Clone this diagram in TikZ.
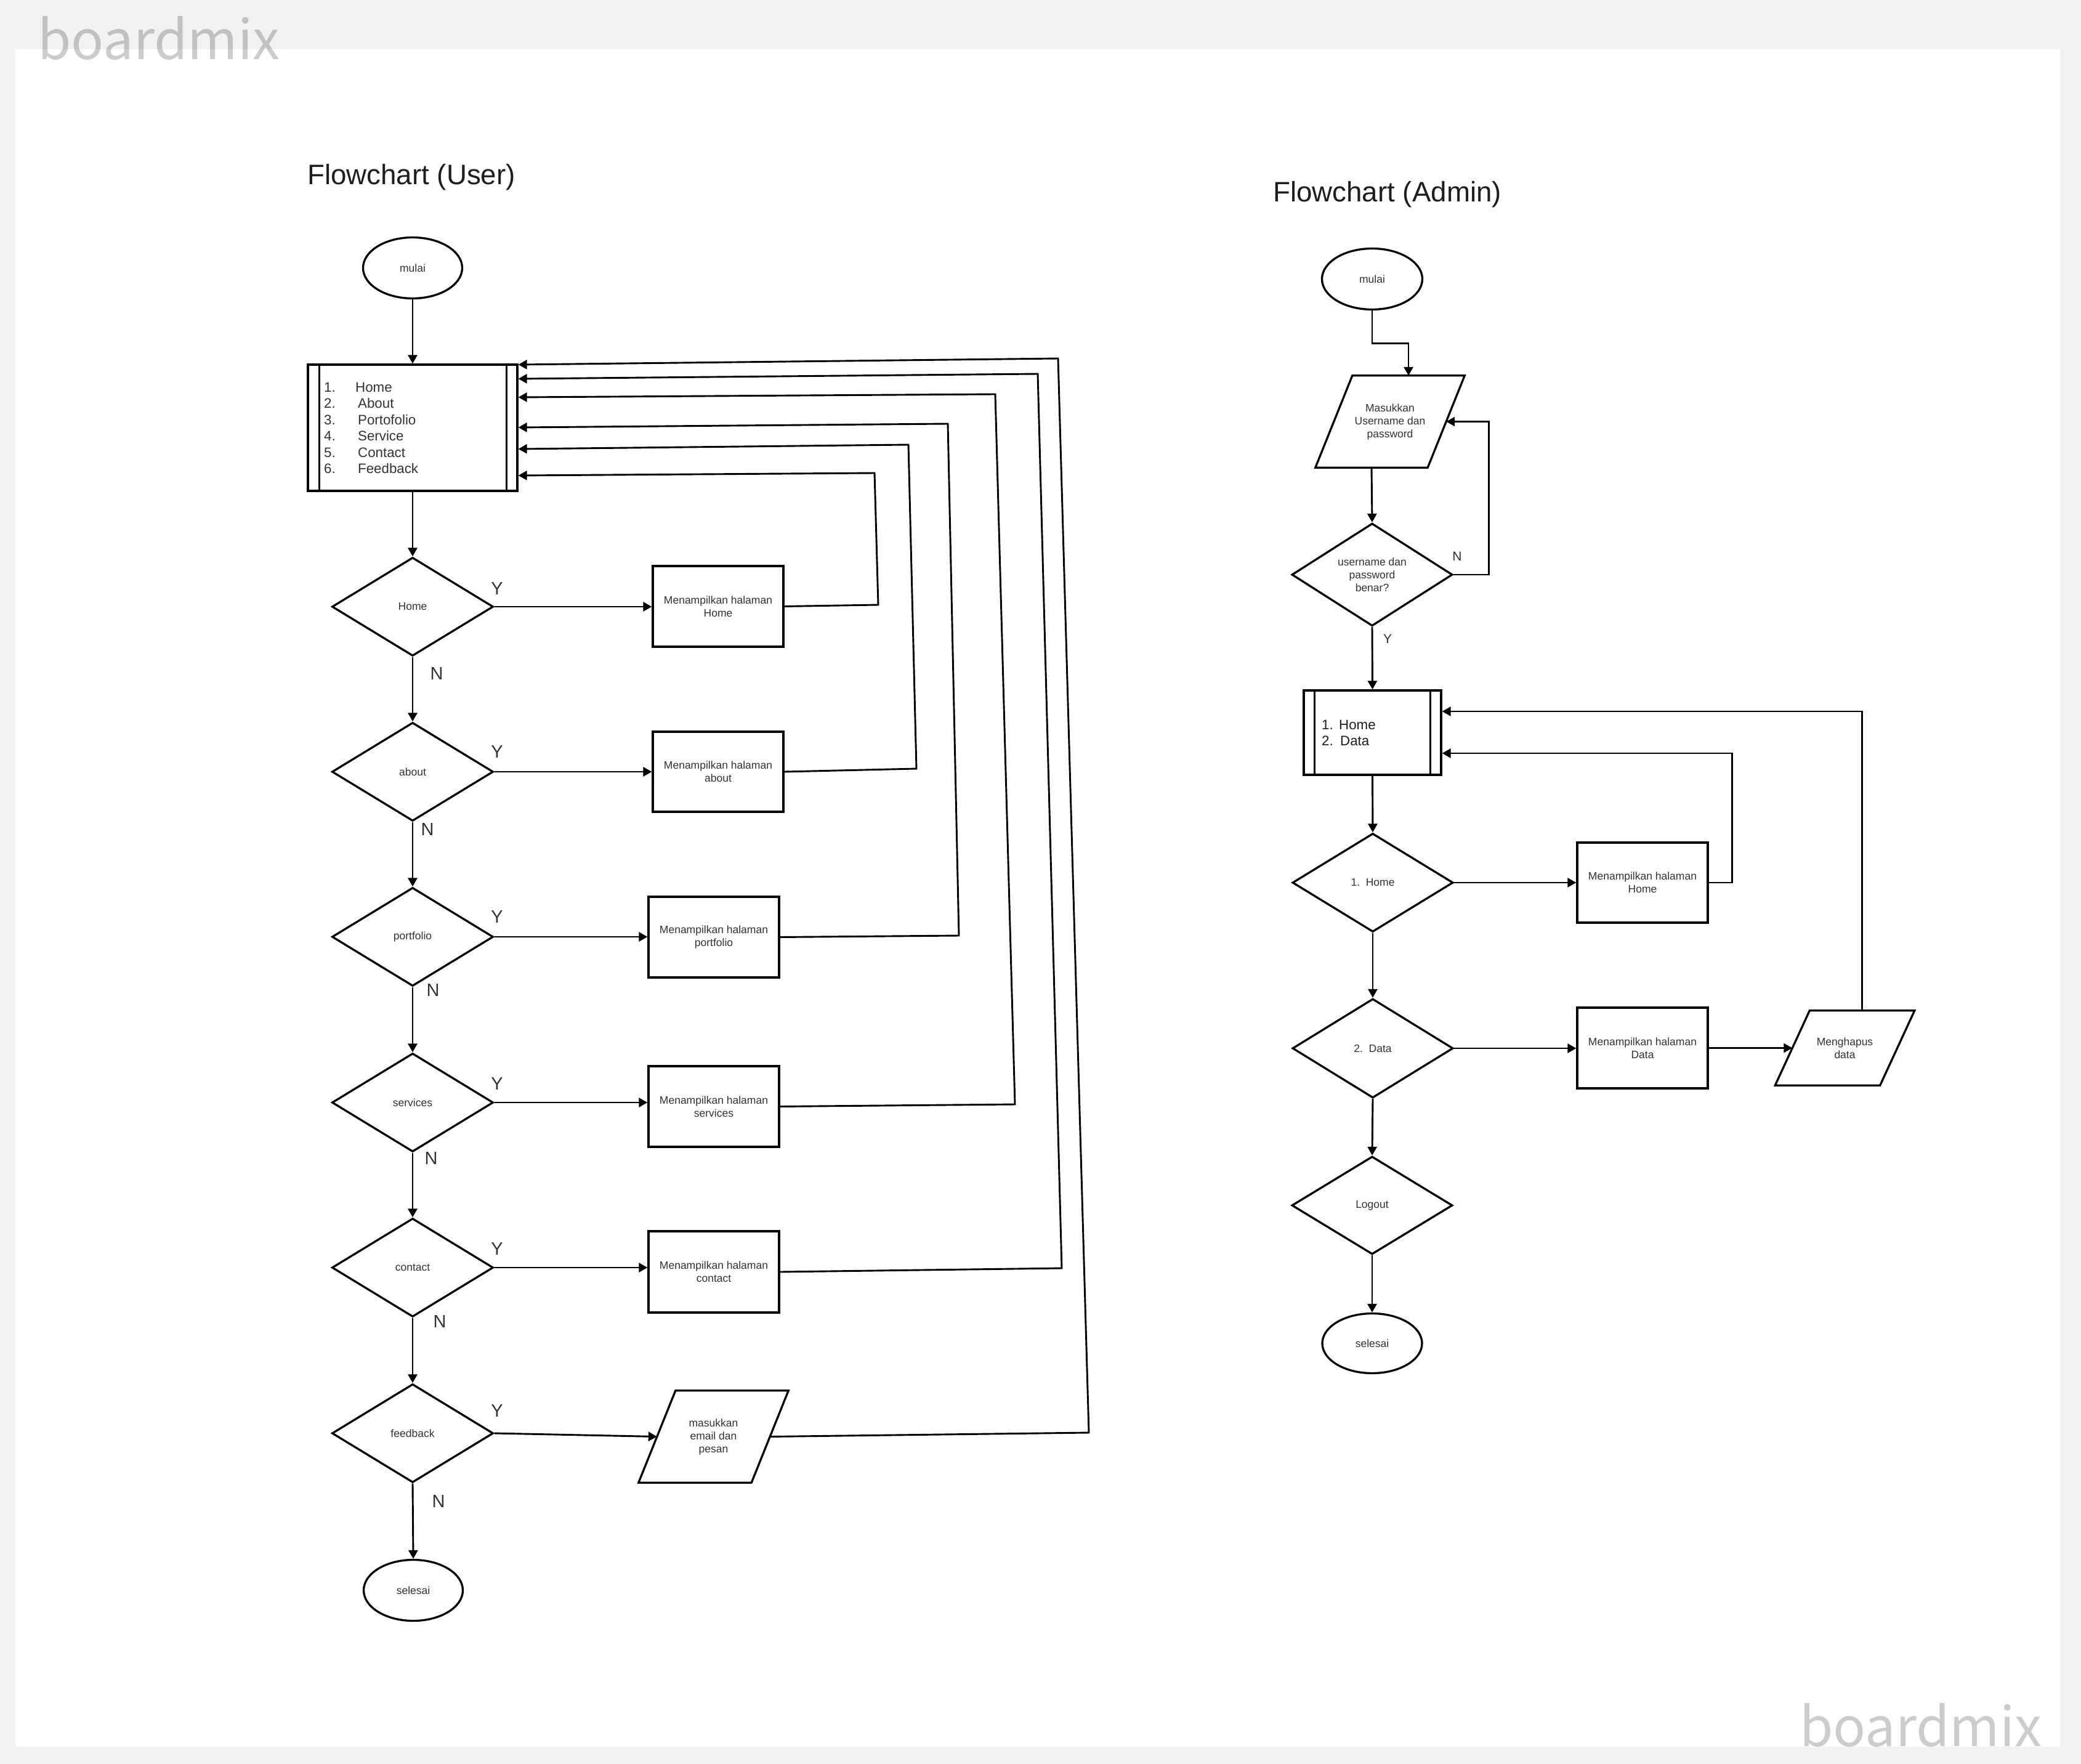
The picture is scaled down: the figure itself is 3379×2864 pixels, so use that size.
\documentclass[tikz,border=0pt]{standalone}
\usepackage{fontspec}
\setmainfont{Liberation Sans}
\newfontfamily\wmfont{Noto Sans CJK SC}
\usetikzlibrary{shapes.geometric,arrows.meta,calc}
\definecolor{bggray}{HTML}{F2F2F2}
\definecolor{txtgray}{HTML}{333333}
\definecolor{titleblack}{HTML}{1E1E1E}
\newcommand\fsmall{\fontsize{17.5}{21}\selectfont}
\newcommand\flist{\fontsize{22.3}{26.4}\selectfont}
\newcommand\ftitle{\fontsize{45.7}{52}\selectfont}
\newcommand\fyn{\fontsize{29}{34}\selectfont}
\newcommand\fynsmall{\fontsize{21}{25}\selectfont}
\newcommand\fwm{\wmfont\fontsize{88}{92}\selectfont}
\begin{document}
\begin{tikzpicture}[x=1pt,y=-1pt,
  shapeline/.style={draw=black, line width=3.3pt},
  conn/.style={draw=black, line width=2.9pt},
  arr/.style={conn, -{Triangle[length=14pt,width=15pt]}},
  terminal/.style={ellipse, shapeline, inner sep=0pt, minimum width=161pt, minimum height=99pt, font=\fsmall, text=txtgray},
  decision/.style={diamond, shapeline, inner sep=0pt, minimum width=262pt, minimum height=160pt, font=\fsmall, text=txtgray, align=center},
  procbox/.style={rectangle, shapeline, inner sep=0pt, minimum width=212pt, minimum height=131pt, font=\fsmall, text=txtgray, align=center},
  iobox/.style={rectangle, inner sep=0pt, font=\fsmall, text=txtgray, align=center},
  listbox/.style={rectangle, shapeline, inner sep=0pt},
  listtext/.style={anchor=west, inner sep=0pt, align=left, font=\flist, text=txtgray},
  ynlabel/.style={font=\fyn, text=txtgray, inner sep=0pt},
  ynsmall/.style={font=\fynsmall, text=txtgray, inner sep=0pt},
  titletext/.style={anchor=base west, inner sep=0pt, font=\ftitle, text=titleblack},
  watermark/.style={anchor=base west, inner sep=0pt, font=\fwm, text=black, text opacity=0.2}
]
\useasboundingbox (0,0) rectangle (3379,2864);
\fill[bggray] (0,0) rectangle (3379,2864);
\fill[white] (25,80) rectangle (3345,2836);

% watermarks
\node[watermark] (wm1) at (61,96) {boardmix};
\node[watermark] (wm2) at (2922,2835) {boardmix};

% titles
\node[titletext] (t1) at (499,299) {Flowchart (User)};
\node[titletext] (t2) at (2067,327) {Flowchart (Admin)};

% ================= USER =================
\node[terminal] (m1) at (670,435) {mulai};
\node[listbox, minimum width=340pt, minimum height=205pt] (b1) at (670,694.5) {};
\draw[shapeline] ([xshift=20pt]b1.north west) -- ([xshift=20pt]b1.south west);
\draw[shapeline] ([xshift=-19pt]b1.north east) -- ([xshift=-19pt]b1.south east);
\node[listtext] (b1list) at (526,695) {\makebox[51pt][l]{1.}Home\\\makebox[55pt][l]{2.}About\\\makebox[55pt][l]{3.}Portofolio\\\makebox[55pt][l]{4.}Service\\\makebox[55pt][l]{5.}Contact\\\makebox[55pt][l]{6.}Feedback};

\node[decision] (u1) at (670,985) {Home};
\node[decision] (u2) at (670,1253) {about};
\node[decision] (u3) at (670,1521) {portfolio};
\node[decision] (u4) at (670,1790) {services};
\node[decision] (u5) at (670,2058) {contact};
\node[decision] (u6) at (670,2327) {feedback};
\node[terminal] (e1) at (671,2582) {selesai};

\node[procbox] (ur1) at (1166,984.5) {Menampilkan halaman\\Home};
\node[procbox, minimum height=130pt] (ur2) at (1166,1253) {Menampilkan halaman\\about};
\node[procbox] (ur3) at (1159,1521.5) {Menampilkan halaman\\portfolio};
\node[procbox] (ur4) at (1159,1796.5) {Menampilkan halaman\\services};
\node[procbox, minimum height=132pt] (ur5) at (1159,2065) {Menampilkan halaman\\contact};
\node[iobox, minimum width=183pt, minimum height=149pt] (up6) at (1158.5,2332.5) {masukkan\\email dan\\pesan};
\draw[shapeline] ([xshift=30pt]up6.north west) -- ([xshift=30pt]up6.north east) -- ([xshift=-30pt]up6.south east) -- ([xshift=-30pt]up6.south west) -- cycle;

% Y / N labels
\node[ynlabel] (y1) at (807,956) {Y};
\node[ynlabel] (y2) at (807,1221) {Y};
\node[ynlabel] (y3) at (807,1489) {Y};
\node[ynlabel] (y4) at (807,1760) {Y};
\node[ynlabel] (y5) at (807,2028) {Y};
\node[ynlabel] (y6) at (807,2290) {Y};
\node[ynlabel] (n1) at (709,1094) {N};
\node[ynlabel] (n2) at (694,1347) {N};
\node[ynlabel] (n3) at (703,1608) {N};
\node[ynlabel] (n4) at (700,1881) {N};
\node[ynlabel] (n5) at (714,2145) {N};
\node[ynlabel] (n6) at (712,2437) {N};

% main flow
\draw[arr] (m1.south) -- (b1.north);
\draw[arr] (b1.south) -- (u1.north);
\draw[arr] (u1.south) -- (u2.north);
\draw[arr] (u2.south) -- (u3.north);
\draw[arr] (u3.south) -- (u4.north);
\draw[arr] (u4.south) -- (u5.north);
\draw[arr] (u5.south) -- (u6.north);
\draw[arr] (u6.south) -- (e1.north);

\draw[arr] (u1.east) -- (u1.east -| ur1.west);
\draw[arr] (u2.east) -- (u2.east -| ur2.west);
\draw[arr] (u3.east) -- (u3.east -| ur3.west);
\draw[arr] (u4.east) -- (u4.east -| ur4.west);
\draw[arr] (u5.east) -- (u5.east -| ur5.west);
\draw[arr] (u6.east) -- (up6.west);

% return connectors
\draw[arr] (ur1.east) -- (1426,982) -- (1420,768) -- (b1.east |- 0,772);
\draw[arr] (ur2.east) -- (1488,1248) -- (1475,722) -- (b1.east |- 0,729);
\draw[arr] (ur3.east) -- (1557,1519) -- (1539,688) -- (b1.east |- 0,694);
\draw[arr] (ur4.east) -- (1648,1793) -- (1616,640) -- (b1.east |- 0,645);
\draw[arr] (ur5.east) -- (1724,2059) -- (1685,607) -- (b1.east |- 0,615);
\draw[arr] (up6.east) -- (1768,2326) -- (1718,582) -- (b1.east |- 0,592);

% ================= ADMIN =================
\node[terminal, minimum width=163pt] (m2) at (2228,453) {mulai};
\node[iobox, minimum width=182pt, minimum height=149pt] (p1) at (2257,684.5) {Masukkan\\Username dan\\password};
\draw[shapeline] ([xshift=30pt]p1.north west) -- ([xshift=30pt]p1.north east) -- ([xshift=-30pt]p1.south east) -- ([xshift=-30pt]p1.south west) -- cycle;
\node[decision, minimum width=261pt, minimum height=157pt] (d0) at (2228,933) {username dan\\password\\benar?};
\node[listbox, minimum width=223pt, minimum height=137pt] (b2) at (2228.5,1189.5) {};
\draw[shapeline] ([xshift=19pt]b2.north west) -- ([xshift=19pt]b2.south west);
\draw[shapeline] ([xshift=-19pt]b2.north east) -- ([xshift=-19pt]b2.south east);
\node[listtext, text=titleblack] (b2list) at (2146,1190) {\makebox[28pt][l]{1.}Home\\\makebox[30pt][l]{2.}Data};

\node[decision, minimum width=261pt] (d1) at (2229,1433) {1.\ \ Home};
\node[procbox, minimum height=130pt] (r6) at (2667,1433) {Menampilkan halaman\\Home};
\node[decision, minimum width=261pt, minimum height=161pt] (d2) at (2229,1702) {2.\ \ Data};
\node[procbox] (r7) at (2667,1701.5) {Menampilkan halaman\\Data};
\node[iobox, minimum width=170pt, minimum height=121pt] (p2) at (2995.5,1701.5) {Menghapus\\data};
\draw[shapeline] ([xshift=28pt]p2.north west) -- ([xshift=28pt]p2.north east) -- ([xshift=-28pt]p2.south east) -- ([xshift=-28pt]p2.south west) -- cycle;
\node[decision, minimum width=261pt, minimum height=159pt] (d3) at (2228,1957) {Logout};
\node[terminal, minimum width=162pt, minimum height=97pt] (e2) at (2228,2181) {selesai};

\node[ynsmall] (an) at (2366,903) {N};
\node[ynsmall] (ay) at (2253,1037) {Y};

\draw[arr] (m2.south) -- ++(0,53) -| ([xshift=30pt]p1.north);
\draw[arr] ([xshift=-30pt]p1.south) -- (d0.north);
\draw[arr] (d0.east) -- ++(57,0) |- (p1.east);
\draw[arr] (d0.south) -- (b2.north);
\draw[arr] (b2.south) -- (d1.north);
\draw[arr] (d1.east) -- (r6.west);
\draw[arr] (r6.east) -- ++(38,0) |- (b2.east |- 0,1223);
\draw[arr] (d1.south) -- (d2.north);
\draw[arr] (d2.east) -- (d2.east -| r7.west);
\draw[arr] (r7.east) -- (p2.west);
\draw[arr] ([xshift=28pt]p2.north) |- (b2.east |- 0,1155);
\draw[arr] (d2.south) -- (d3.north);
\draw[arr] (d3.south) -- (e2.north);
\end{tikzpicture}
\end{document}
